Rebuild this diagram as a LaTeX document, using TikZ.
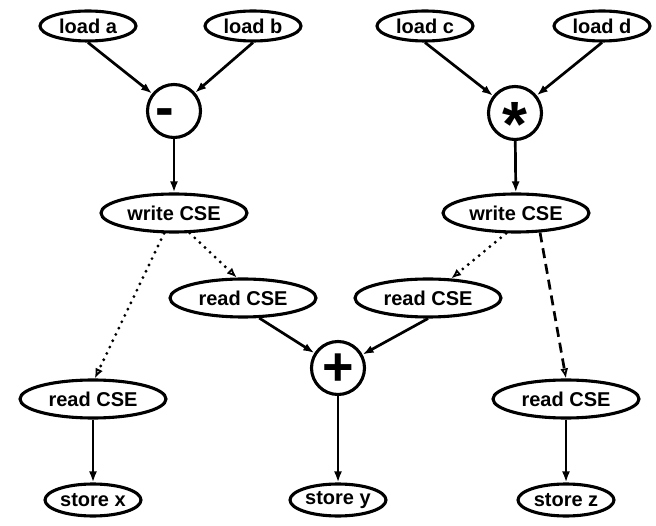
\documentclass[tikz,border=0pt]{standalone}
\usepackage{fontspec}
\setmainfont{Liberation Sans}
\usetikzlibrary{arrows.meta,shapes.geometric}

\tikzset{
  op/.style={ellipse, draw, line width=3.1pt, inner sep=0pt,
    font=\fontsize{20}{24}\selectfont\bfseries},
  opsmall/.style={op, minimum width=96pt, minimum height=30pt},
  opwide/.style={op, minimum width=146pt, minimum height=38pt},
  opstore/.style={op, minimum width=96pt, minimum height=32pt},
  calc/.style={circle, draw, line width=3.1pt, inner sep=0pt, minimum size=53pt},
  flow/.style={line width=2.7pt, -{Latex[length=11pt,width=8pt]}},
  cseflow/.style={line width=3.2pt, dash pattern=on 0pt off 7pt, line cap=round,
    -{Latex[open,length=10pt,width=8pt,line width=1.8pt]}},
  csedash/.style={line width=2.7pt, dash pattern=on 10pt off 6pt,
    -{Latex[open,length=10pt,width=8pt,line width=1.8pt]}},
}

\begin{document}
\begin{tikzpicture}[x=1pt,y=-1pt]
\useasboundingbox (0,0) rectangle (656,526);

% loads
\node[opsmall] (la) at (88,26)  {load a};
\node[opsmall] (lb) at (253,26) {load b};
\node[opsmall] (lc) at (425,26) {load c};
\node[opsmall] (ld) at (602,26) {load d};

% arithmetic
\node[calc] (sub) at (174,111)
  {\fontsize{56}{56}\selectfont\bfseries\smash{\hspace*{-18pt}\raisebox{-0.27em}{-}}};
\node[calc] (mul) at (515,113)
  {\fontsize{64}{64}\selectfont\bfseries\smash{\raisebox{-0.52em}{*}}};
\node[calc] (add) at (338,368)
  {\fontsize{54}{54}\selectfont\bfseries\smash{\raisebox{-0.33em}{+}}};

% common subexpression writes and reads
\node[opwide] (wl) at (174,213) {write CSE};
\node[opwide] (wr) at (516,213) {write CSE};
\node[opwide] (rml) at (243,298) {read CSE};
\node[opwide] (rmr) at (428,298) {read CSE};
\node[opwide] (rbl) at (93,399)  {read CSE};
\node[opwide] (rbr) at (566,399) {read CSE};

% stores
\node[opstore] (sx) at (93,500)  {store x};
\node[opstore] (sy) at (338,500) {store y};
\node[opstore] (sz) at (566,500) {store z};

% data flow
\draw[flow] (la.south) -- (sub);
\draw[flow] (lb.south) -- (sub);
\draw[flow] (sub) -- (wl);
\draw[flow] (lc.south) -- (mul);
\draw[flow] (ld.south) -- (mul);
\draw[flow] (mul) -- (wr);

\draw[cseflow] (wl.244) -- (rbl.85);
\draw[cseflow] (wl.308) -- (rml.107);
\draw[cseflow] (wr.244) -- (rmr.40);
\draw[csedash] (wr.321) -- (rbr.north);

\draw[flow] (rml.309) -- (add);
\draw[flow] (rmr.south) -- (add);
\draw[flow] (add) -- (sy);
\draw[flow] (rbl) -- (sx);
\draw[flow] (rbr) -- (sz);
\end{tikzpicture}
\end{document}
